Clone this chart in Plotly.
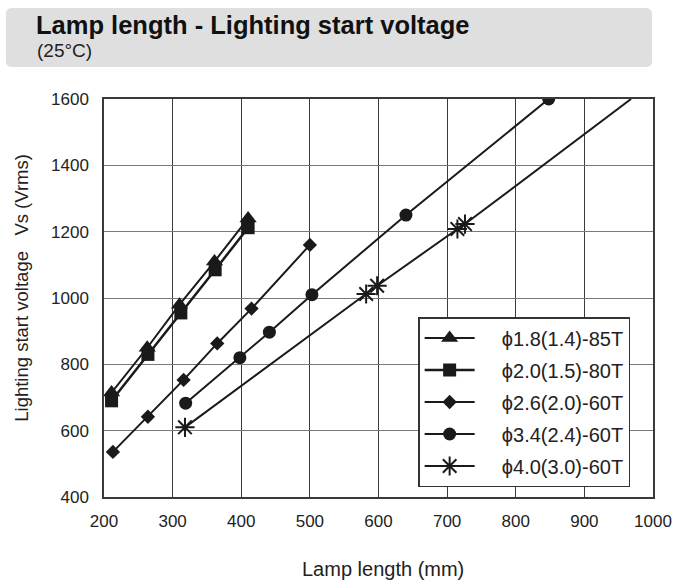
import plotly.graph_objects as go

# ---- data ----
labels = ["ϕ1.8(1.4)-85T", "ϕ2.0(1.5)-80T", "ϕ2.6(2.0)-60T", "ϕ3.4(2.4)-60T", "ϕ4.0(3.0)-60T"]

x_85t = [211, 263, 310, 361, 410]
y_85t = [715, 850, 980, 1110, 1240]

x_80t = [211, 264, 312, 362, 410]
y_80t = [690, 830, 955, 1085, 1212]

x_26 = [213, 264, 316, 365, 415, 500]
y_26 = [536, 642, 753, 863, 968, 1160]

x_34 = [319, 398, 441, 503, 640, 848]
y_34 = [683, 820, 897, 1010, 1250, 1600]

x_40 = [318, 582, 598, 715, 726]
y_40 = [610, 1012, 1037, 1208, 1223]
# fitted line extension (no marker)
x_40_ext = [726, 968]
y_40_ext = [1223, 1600]

x_ticks = [200, 300, 400, 500, 600, 700, 800, 900, 1000]
y_ticks = [400, 600, 800, 1000, 1200, 1400, 1600]

fig = go.Figure()
blk = "#1a1a1a"
pad = "\u00a0" * 4

fig.add_trace(go.Scatter(x=x_85t, y=y_85t, name=pad + labels[0], mode="lines+markers",
                         line=dict(color=blk, width=2),
                         marker=dict(symbol="triangle-up", size=15, color=blk),
                         legendgroup="a"))
fig.add_trace(go.Scatter(x=x_80t, y=y_80t, name=pad + labels[1], mode="lines+markers",
                         line=dict(color=blk, width=2.5),
                         marker=dict(symbol="square", size=13, color=blk),
                         legendgroup="b"))
fig.add_trace(go.Scatter(x=x_26, y=y_26, name=pad + labels[2], mode="lines+markers",
                         line=dict(color=blk, width=2),
                         marker=dict(symbol="diamond", size=11, color=blk),
                         legendgroup="c"))
fig.add_trace(go.Scatter(x=x_34, y=y_34, name=pad + labels[3], mode="lines+markers",
                         line=dict(color=blk, width=2),
                         marker=dict(symbol="circle", size=13, color=blk),
                         legendgroup="d"))
fig.add_trace(go.Scatter(x=x_40, y=y_40, name=pad + labels[4], mode="lines+markers",
                         line=dict(color=blk, width=2),
                         marker=dict(symbol="asterisk-open", size=16,
                                     line=dict(color=blk, width=2)),
                         legendgroup="e"))
fig.add_trace(go.Scatter(x=x_40_ext, y=y_40_ext, mode="lines", showlegend=False,
                         line=dict(color=blk, width=2), legendgroup="e"))

L, R, T, B = 104, 26, 99, 83
W, H = 684, 580
pw, ph = W - L - R, H - T - B

def px2paper_x(px):
    return (px - L) / pw

def px2paper_y(py):
    return (H - B - py) / ph

# rounded title box
x0, x1 = px2paper_x(5), px2paper_x(657)
y0, y1 = px2paper_y(67), px2paper_y(8)
rx, ry = 6 / pw, 6 / ph
path = (f"M {x0+rx},{y0} L {x1-rx},{y0} Q {x1},{y0} {x1},{y0+ry} "
        f"L {x1},{y1-ry} Q {x1},{y1} {x1-rx},{y1} L {x0+rx},{y1} "
        f"Q {x0},{y1} {x0},{y1-ry} L {x0},{y0+ry} Q {x0},{y0} {x0+rx},{y0} Z")
fig.add_shape(type="path", path=path, xref="paper", yref="paper",
              fillcolor="#dfdfdf", line=dict(width=0), layer="below")

font = "Liberation Sans, Arial, sans-serif"
fig.add_annotation(text="<b>Lamp length - Lighting start voltage</b>", xref="paper", yref="paper",
                   x=px2paper_x(33), y=px2paper_y(25), xanchor="left", yanchor="middle",
                   showarrow=False, font=dict(family=font, size=25.5, color="#111"))
fig.add_annotation(text="(25°C)", xref="paper", yref="paper",
                   x=px2paper_x(34), y=px2paper_y(51), xanchor="left", yanchor="middle",
                   showarrow=False, font=dict(family=font, size=19, color="#222"))
fig.add_annotation(text="Lighting start voltage\u00a0\u00a0\u00a0Vs (Vrms)", xref="paper", yref="paper",
                   x=px2paper_x(20), y=px2paper_y(288), xanchor="center", yanchor="middle",
                   textangle=-90, showarrow=False, font=dict(family=font, size=18.5, color="#222"))
fig.add_annotation(text="Lamp length (mm)", xref="paper", yref="paper",
                   x=px2paper_x(386), y=px2paper_y(569), xanchor="center", yanchor="middle",
                   showarrow=False, font=dict(family=font, size=20, color="#222"))

fig.update_layout(
    width=W, height=H,
    margin=dict(l=L, r=R, t=T, b=B),
    paper_bgcolor="white", plot_bgcolor="white",
    font=dict(family=font, size=17, color="#222"),
    showlegend=True,
    legend=dict(x=px2paper_x(421), y=px2paper_y(317), xanchor="left", yanchor="top",
                bgcolor="white", bordercolor="#333", borderwidth=1.5,
                font=dict(family=font, size=20, color="#222"),
                itemwidth=50, tracegroupgap=3),
)
fig.update_xaxes(range=[200, 1000], tickvals=x_ticks, showgrid=True, gridcolor="#3a3a3a",
                 gridwidth=1.2, showline=True, linecolor="#3a3a3a", linewidth=1.5, mirror=True,
                 zeroline=False, ticks="", ticklabelstandoff=8)
fig.update_yaxes(range=[400, 1600], tickvals=y_ticks, showgrid=True, gridcolor="#7a7a7a",
                 gridwidth=1.2, showline=True, linecolor="#3a3a3a", linewidth=1.5, mirror=True,
                 zeroline=False, ticks="", ticklabelstandoff=10)

fig.write_html("out.html")
